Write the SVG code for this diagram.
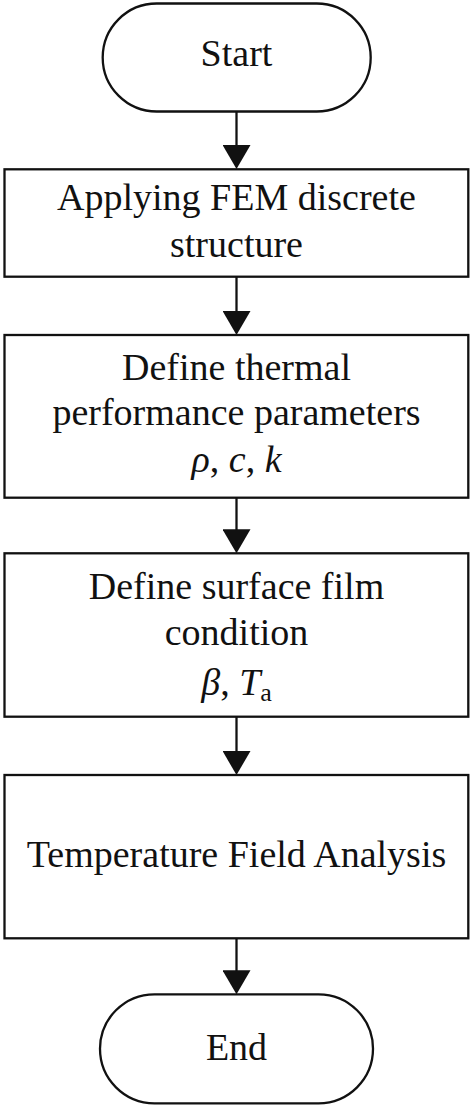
<svg xmlns="http://www.w3.org/2000/svg" width="473" height="1108" viewBox="0 0 473 1108">
<style>
.shape{fill:#fff;stroke:#111;stroke-width:2.3}
.t{font-family:"Liberation Serif","Times New Roman",serif;font-size:38px;fill:#111;text-anchor:middle}
.i{font-style:italic}
.conn line{stroke:#111;stroke-width:2.3}
</style>
<defs>
<marker id="ah" markerUnits="userSpaceOnUse" markerWidth="24" markerHeight="28" viewBox="0 0 24 28" refX="12" refY="14" orient="auto">
<path d="M0,0 L24,14 L0,28 Z" fill="#111"/>
</marker>
</defs>
<rect width="473" height="1108" fill="#fff"/>
<g id="start">
<rect class="shape" x="102.7" y="3.5" width="268" height="108" rx="54" ry="54"/>
<text class="t" x="236.5" y="66">Start</text>
</g>
<g id="fem">
<rect class="shape" x="4.5" y="169.3" width="463.8" height="107.4"/>
<text class="t" x="236.5" y="210">Applying FEM discrete</text>
<text class="t" x="236.5" y="256.5">structure</text>
</g>
<g id="thermal">
<rect class="shape" x="4.5" y="335" width="463.8" height="162.7"/>
<text class="t" x="236.5" y="380">Define thermal</text>
<text class="t" x="236.5" y="425">performance parameters</text>
<text class="t" x="236.5" y="472"><tspan class="i">ρ</tspan>, <tspan class="i">c</tspan>, <tspan class="i">k</tspan></text>
</g>
<g id="surface">
<rect class="shape" x="4.5" y="553.3" width="463.8" height="163.4"/>
<text class="t" x="236.5" y="598.5">Define surface film</text>
<text class="t" x="236.5" y="645">condition</text>
<text class="t" x="236.5" y="695"><tspan class="i">β</tspan>, <tspan class="i">T</tspan><tspan font-size="26" dy="6">a</tspan></text>
</g>
<g id="analysis">
<rect class="shape" x="4.5" y="775" width="463.8" height="163.3"/>
<text class="t" x="236.5" y="866.5">Temperature Field Analysis</text>
</g>
<g id="end">
<rect class="shape" x="100" y="994.3" width="273" height="109" rx="54.5" ry="54.5"/>
<text class="t" x="236.5" y="1060">End</text>
</g>
<g id="connectors" class="conn">
<line x1="236.5" y1="111.5" x2="236.5" y2="157" marker-end="url(#ah)"/>
<line x1="236.5" y1="276.7" x2="236.5" y2="323" marker-end="url(#ah)"/>
<line x1="236.5" y1="497.7" x2="236.5" y2="541.3" marker-end="url(#ah)"/>
<line x1="236.5" y1="716.7" x2="236.5" y2="763" marker-end="url(#ah)"/>
<line x1="236.5" y1="938.3" x2="236.5" y2="982.3" marker-end="url(#ah)"/>
</g>
</svg>
